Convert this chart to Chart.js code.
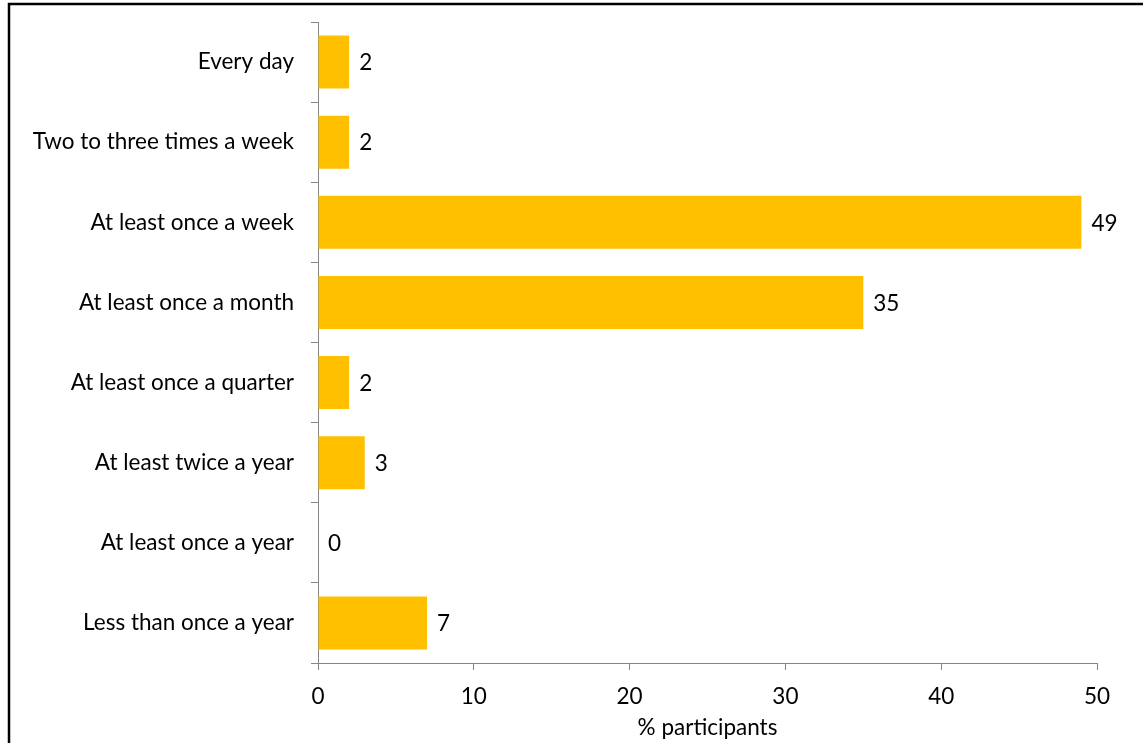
<!DOCTYPE html>
<html>
<head>
<meta charset="utf-8">
<script src="https://cdn.jsdelivr.net/npm/chart.js@4"></script>
<style>
  html, body { margin: 0; padding: 0; background: #ffffff; }
  #wrap { position: relative; width: 1143px; height: 743px; }
  canvas { display: block; }
</style>
</head>
<body>
<div id="wrap"><canvas id="c" width="1143" height="743"></canvas></div>
<script>
// How often participants take part, as % of all participants
const categories = [
  'Every day',
  'Two to three times a week',
  'At least once a week',
  'At least once a month',
  'At least once a quarter',
  'At least twice a year',
  'At least once a year',
  'Less than once a year'
];
const percentages = [2, 2, 49, 35, 2, 3, 0, 7];
const xTicks = [0, 10, 20, 30, 40, 50];
const xTitle = '% participants';

const FONT = 'Lato, "Open Sans", sans-serif';
const FONT_SIZE = 22.5;
const AXIS_GREY = '#868686';

// Black frame along the left and top edges of the figure
const framePlugin = {
  id: 'frame',
  afterDraw(chart) {
    const ctx = chart.ctx;
    ctx.save();
    ctx.strokeStyle = '#000000';
    ctx.lineWidth = 2.5;
    ctx.beginPath();
    ctx.moveTo(9, 743);
    ctx.lineTo(9, 4);
    ctx.lineTo(1143, 4);
    ctx.stroke();
    ctx.restore();
  }
};

// Value printed just past the end of each bar
const valueLabels = {
  id: 'valueLabels',
  afterDatasetsDraw(chart) {
    const ctx = chart.ctx;
    const meta = chart.getDatasetMeta(0);
    ctx.save();
    ctx.font = FONT_SIZE + 'px ' + FONT;
    ctx.fillStyle = '#000000';
    ctx.textAlign = 'left';
    ctx.textBaseline = 'middle';
    meta.data.forEach((bar, i) => {
      ctx.fillText(String(percentages[i]), bar.x + 10, bar.y + 1);
    });
    ctx.restore();
  }
};

new Chart(document.getElementById('c'), {
  type: 'bar',
  data: {
    labels: categories,
    datasets: [{
      data: percentages,
      backgroundColor: '#FFC000',
      borderWidth: 0,
      barPercentage: 0.66,
      categoryPercentage: 1.0
    }]
  },
  options: {
    indexAxis: 'y',
    responsive: false,
    animation: false,
    layout: { padding: { top: 22, right: 46, left: 0, bottom: 0 } },
    plugins: {
      legend: { display: false },
      tooltip: { enabled: false },
      title: { display: false }
    },
    scales: {
      x: {
        min: 0,
        max: 50,
        afterBuildTicks(scale) {
          scale.ticks = xTicks.map(v => ({ value: v }));
        },
        afterFit(scale) { scale.height = 80; },
        grid: {
          drawOnChartArea: false,
          drawTicks: true,
          tickLength: 7,
          color: AXIS_GREY,
          lineWidth: 1
        },
        border: { display: true, color: AXIS_GREY, width: 1 },
        ticks: {
          color: '#000000',
          font: { family: FONT, size: FONT_SIZE },
          padding: 13
        },
        title: {
          display: true,
          text: xTitle,
          color: '#000000',
          font: { family: FONT, size: FONT_SIZE },
          padding: { top: 0, bottom: 2 }
        }
      },
      y: {
        afterFit(scale) {
          scale.width = 318;
          scale.paddingTop = 0;
          scale.paddingBottom = 0;
        },
        grid: {
          offset: true,
          drawOnChartArea: false,
          drawTicks: true,
          tickLength: 7,
          color: AXIS_GREY,
          lineWidth: 1
        },
        border: { display: true, color: AXIS_GREY, width: 1 },
        ticks: {
          color: '#000000',
          font: { family: FONT, size: FONT_SIZE },
          padding: 17
        }
      }
    }
  },
  plugins: [valueLabels, framePlugin]
});
</script>
</body>
</html>
